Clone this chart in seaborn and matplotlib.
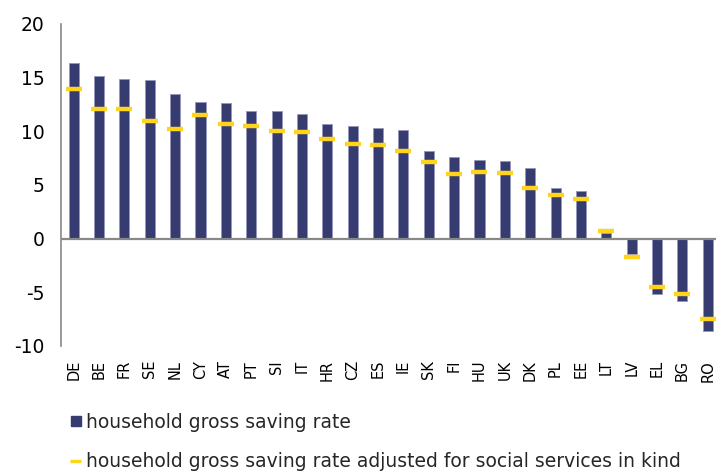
import matplotlib
matplotlib.use("Agg")
import matplotlib.pyplot as plt
from matplotlib.lines import Line2D
import seaborn as sns
import pandas as pd

countries = ["DE", "BE", "FR", "SE", "NL", "CY", "AT", "PT", "SI", "IT", "HR", "CZ", "ES",
             "IE", "SK", "FI", "HU", "UK", "DK", "PL", "EE", "LT", "LV", "EL", "BG", "RO"]
gross_saving = [16.4, 15.2, 14.85, 14.75, 13.5, 12.7, 12.6, 11.9, 11.85, 11.6, 10.7, 10.5, 10.3,
                10.1, 8.15, 7.65, 7.35, 7.25, 6.55, 4.7, 4.45, 0.55, -1.45, -5.15, -5.8, -8.6]
adjusted_saving = [13.9, 12.1, 12.05, 11.0, 10.25, 11.5, 10.65, 10.5, 10.0, 9.9, 9.25, 8.85, 8.7,
                   8.15, 7.15, 6.0, 6.25, 6.1, 4.7, 4.05, 3.7, 0.7, -1.7, -4.55, -5.15, -7.5]
y_ticks = [-10, -5, 0, 5, 10, 15, 20]

label_gross = "household gross saving rate"
label_adjusted = "household gross saving rate adjusted for social services in kind"

df = pd.DataFrame({"country": countries, "gross": gross_saving, "adjusted": adjusted_saving})

navy = "#363B70"
gold = "#FFD41C"
grey = "#888888"

sns.set_theme(style="white")
plt.rcParams["font.family"] = ["DejaVu Sans"]

fig = plt.figure(figsize=(7.16, 4.73), dpi=100)
ax = fig.add_axes([0.0852, 0.2685, 0.921, 0.6808])

sns.barplot(data=df, x="country", y="gross", order=countries, color=navy, width=0.4,
            saturation=1, edgecolor="#9496BC", linewidth=0.6, ax=ax)
sns.pointplot(data=df, x="country", y="adjusted", order=countries, errorbar=None,
              color=gold, marker="_", linestyle="none", markersize=11,
              markeredgewidth=3.2, ax=ax)

ax.set_ylim(-10, 20)
ax.set_xlim(-0.5, 25.5)
ax.set_yticks(y_ticks)
ax.set_yticklabels([str(v) for v in y_ticks])
ax.set_xlabel("")
ax.set_ylabel("")

ax.axhline(0, color=grey, linewidth=1.6, zorder=1)
for side in ("top", "right", "bottom"):
    ax.spines[side].set_visible(False)
ax.spines["left"].set_color(grey)
ax.spines["left"].set_linewidth(1.2)

ax.tick_params(axis="y", length=0, pad=12, labelsize=13.5, labelcolor="black")
ax.tick_params(axis="x", length=0, pad=10, labelsize=10.5, labelcolor="black", rotation=90)

handles = [
    Line2D([], [], linestyle="none", marker="s", markersize=7.6,
           markerfacecolor=navy, markeredgecolor=navy),
    Line2D([], [], color=gold, linewidth=2.4, solid_capstyle="butt"),
]
fig.legend(handles, [label_gross, label_adjusted], loc="upper left",
           bbox_to_anchor=(70 / 716, 1 - 413 / 473), frameon=False, fontsize=13.5,
           handlelength=0.6, handletextpad=0.25, labelspacing=1.07,
           borderpad=0, borderaxespad=0)

fig.savefig("out.png", dpi=100)
